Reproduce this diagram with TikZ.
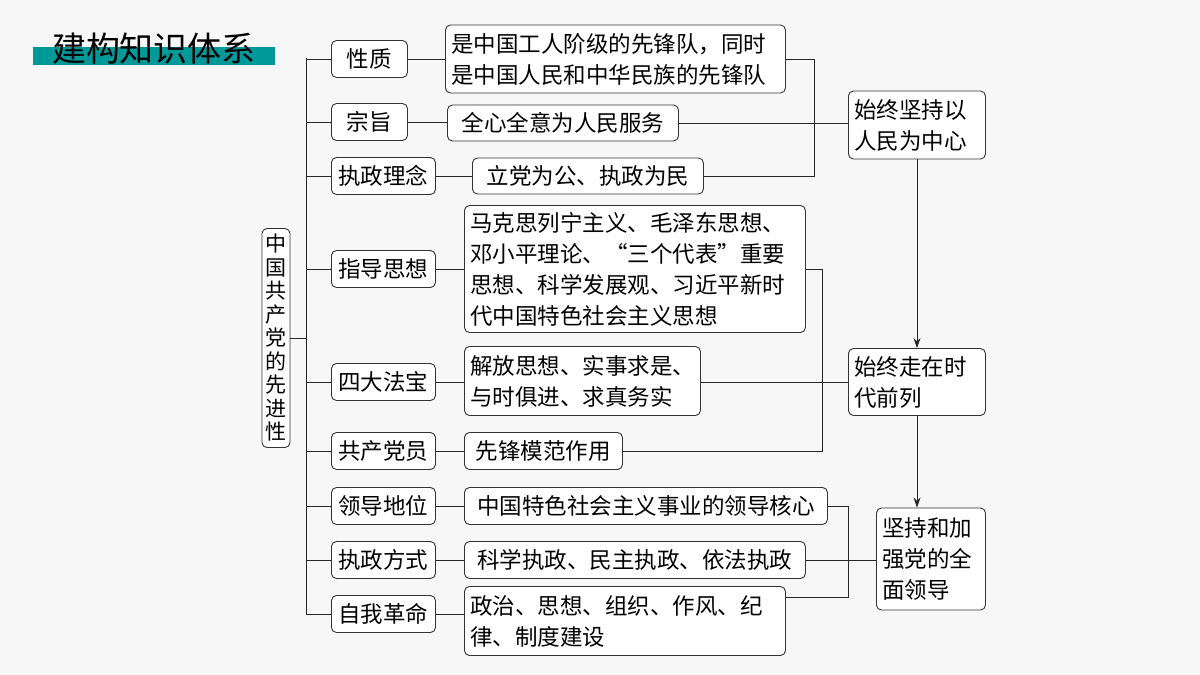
\documentclass[tikz,border=0pt]{standalone}
\usepackage{fontspec}
\setmainfont{Noto Sans CJK SC}
\usetikzlibrary{arrows.meta}
\begin{document}
\begin{tikzpicture}[x=1pt,y=-1pt,
 bx/.style={draw=black!80,line width=0.9pt,rounded corners=5pt,fill=white,inner sep=0pt,font=\fontsize{22.5}{31}\selectfont,align=left},
 ln/.style={draw=black!85,line width=0.9pt},
 ar/.style={ln,-{Stealth[length=10pt,width=7pt]}}]
\useasboundingbox[fill=white!94!gray] (0,0) rectangle (1200,675);
\fill[teal!80!cyan] (33,47) rectangle (275,65);
\node[font=\fontsize{34}{36}\selectfont,anchor=center] (title) at (154,49) {建构知识体系};
% root
\node[bx,minimum width=28pt,minimum height=219pt,align=center,font=\fontsize{21}{23.5}\selectfont] (root) at (276,338) {中\\国\\共\\产\\党\\的\\先\\进\\性};
\coordinate (t1) at (306,58); \coordinate (t2) at (306,614);
\draw[ln] (t1) -- (t2);
\coordinate (tr) at (306,338);
\draw[ln] (root) -- (tr);
% left boxes
\foreach \n/\t/\y/\w in {L1/性质/59/76,L2/宗旨/122/76,L3/执政理念/176/104,L4/指导思想/269/104,L5/四大法宝/382/104,L6/共产党员/451/104,L7/领导地位/506/104,L8/执政方式/560/104,L9/自我革命/614/104}{
 \node[bx,minimum width=\w pt,minimum height=37pt,anchor=west,align=center] (\n) at (331,\y) {\t};
 \coordinate (c\n) at (306,\y);
 \draw[ln] (c\n) -- (\n.west);
}
% middle boxes
\node[bx,minimum width=340pt,minimum height=68pt,anchor=west,text width=328pt] (A1) at (445,59) {是中国工人阶级的先锋队，同时\\是中国人民和中华民族的先锋队};
\node[bx,minimum width=231pt,minimum height=36pt,anchor=west,align=center] (A2) at (447,123) {全心全意为人民服务};
\node[bx,minimum width=231pt,minimum height=36pt,anchor=west,align=center] (A3) at (472,176) {立党为公、执政为民};
\node[bx,minimum width=341pt,minimum height=127pt,anchor=west,text width=329pt] (A4) at (464,269) {马克思列宁主义、毛泽东思想、\\邓小平理论、“三个代表”重要\\思想、科学发展观、习近平新时\\代中国特色社会主义思想};
\node[bx,minimum width=236pt,minimum height=69pt,anchor=west,text width=224pt] (A5) at (464,381) {解放思想、实事求是、\\与时俱进、求真务实};
\node[bx,minimum width=158pt,minimum height=37pt,anchor=west,align=center] (A6) at (464,451) {先锋模范作用};
\node[bx,minimum width=363pt,minimum height=37pt,anchor=west,align=center] (A7) at (464,506) {中国特色社会主义事业的领导核心};
\node[bx,minimum width=341pt,minimum height=37pt,anchor=west,align=center] (A8) at (464,560) {科学执政、民主执政、依法执政};
\node[bx,minimum width=321pt,minimum height=69pt,anchor=west,text width=309pt] (A9) at (464,621) {政治、思想、组织、作风、纪\\律、制度建设};
\foreach \i in {1,...,9}{\draw[ln] (L\i.east) -- (A\i.west |- L\i.east);}
% right boxes
\node[bx,minimum width=137pt,minimum height=68pt,anchor=west,text width=125pt] (R1) at (848,125) {始终坚持以\\人民为中心};
\node[bx,minimum width=137pt,minimum height=67pt,anchor=west,text width=125pt] (R2) at (848,382) {始终走在时\\代前列};
\node[bx,minimum width=109pt,minimum height=102pt,anchor=west,text width=97pt] (R3) at (876,559) {坚持和加\\强党的全\\面领导};
% connectors
\coordinate (j1) at (814,59); \coordinate (j2) at (814,176);
\draw[ln] (A1.east) -- (j1) -- (j2) -- (A3.east |- j2);
\draw[ln] (A2.east) -- (R1.west |- A2.east);
\coordinate (k1) at (822,269); \coordinate (k2) at (822,451);
\draw[ln] (A4.east |- k1) -- (k1) -- (k2) -- (A6.east |- k2);
\draw[ln] (A5.east |- R2.west) -- (R2.west);
\coordinate (m1) at (848,506); \coordinate (m2) at (848,597);
\draw[ln] (A7.east) -- (m1) -- (m2) -- (A9.east |- m2);
\draw[ln] (A8.east) -- (R3.west |- A8.east);
\draw[ar] (R1.south -| 917,0) -- (R2.north -| 917,0);
\draw[ar] (R2.south -| 917,0) -- (R3.north -| 917,0);
\end{tikzpicture}
\end{document}
